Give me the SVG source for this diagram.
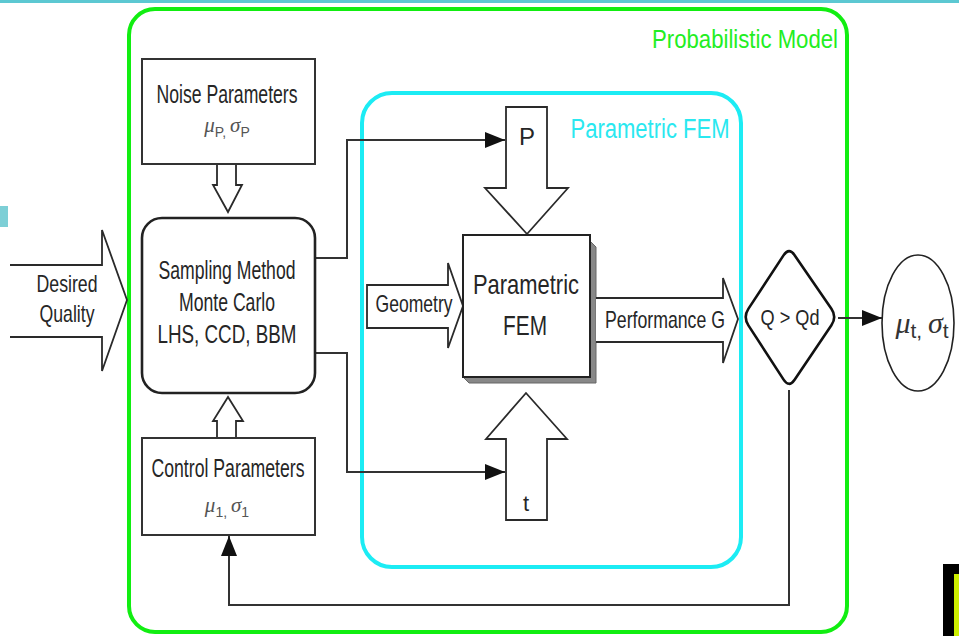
<svg xmlns="http://www.w3.org/2000/svg" width="959" height="636" viewBox="0 0 959 636">
<style>
text{font-family:"Liberation Sans Narrow","Liberation Sans",Arial,sans-serif;fill:#262626;text-anchor:middle}
.box{fill:#fff;stroke:#333;stroke-width:2}
.hol{fill:#fff;stroke:#2a2a2a;stroke-width:1.8;stroke-linejoin:miter}
.con{fill:none;stroke:#333;stroke-width:2}
.gr{font-style:italic;font-family:"Liberation Serif","Times New Roman",serif;fill:#555}
.sub{font-style:normal;font-family:"Liberation Sans",Arial,sans-serif}
</style>
<defs>
<marker id="ah" markerUnits="userSpaceOnUse" markerWidth="22" markerHeight="16" refX="20" refY="8" orient="auto">
<path d="M0 0 L20 8 L0 16 Z" fill="#111"/>
</marker>
</defs>
<rect x="0" y="0" width="959" height="609" fill="#fff"/>
<rect x="0" y="0" width="959" height="3" fill="#5cc8d2"/>
<rect x="0" y="206" width="8" height="21" fill="#7dcfd6"/>
<rect x="943" y="564" width="16" height="72" fill="#000"/>
<rect x="954" y="574" width="5" height="62" fill="#ccee00"/>

<g id="probabilistic-model">
<rect x="129" y="9" width="718" height="623" rx="26" fill="none" stroke="#11ee11" stroke-width="4"/>
<text x="745" y="48" font-size="26" style="fill:#22ee22" textLength="186" lengthAdjust="spacingAndGlyphs">Probabilistic Model</text>
</g>
<g id="parametric-fem-group">
<rect x="362" y="93" width="379" height="474" rx="30" fill="none" stroke="#1cecf4" stroke-width="4"/>
<text x="650" y="138" font-size="27" style="fill:#2ae8f0" textLength="159" lengthAdjust="spacingAndGlyphs">Parametric FEM</text>
</g>

<g id="connectors">
<path class="con" d="M316 258 H347 V140 H505" marker-end="url(#ah)"/>
<path class="con" d="M316 353 H347 V472 H505" marker-end="url(#ah)"/>
<path class="con" d="M838 318 H882" marker-end="url(#ah)"/>
<path class="con" d="M789 390 V605 H229 V536" marker-end="url(#ah)"/>
</g>

<g id="desired-quality">
<path class="hol" d="M10 265 H102 V230 L127 300 L102 371 V337 H10"/>
<text x="67" y="292" font-size="24" textLength="61" lengthAdjust="spacingAndGlyphs">Desired</text>
<text x="67" y="322" font-size="24" textLength="55" lengthAdjust="spacingAndGlyphs">Quality</text>
</g>

<g id="noise-parameters">
<rect class="box" x="142" y="59" width="173" height="105"/>
<text x="227" y="103" font-size="25" textLength="141" lengthAdjust="spacingAndGlyphs">Noise Parameters</text>
<text x="227" y="132" font-size="21" class="gr">μ<tspan class="sub" font-size="14" dy="5">P</tspan><tspan class="sub" font-size="14">, </tspan><tspan dy="-5">σ</tspan><tspan class="sub" font-size="14" dy="5">P</tspan></text>
<path class="hol" d="M217 165 V185 H213 L228 212 L242 185 H236 V165"/>
</g>

<g id="sampling-method">
<rect x="142" y="218" width="173" height="175" rx="20" fill="#fff" stroke="#222" stroke-width="2.6"/>
<text x="227" y="279" font-size="25" textLength="137" lengthAdjust="spacingAndGlyphs">Sampling Method</text>
<text x="227" y="311" font-size="25" textLength="96" lengthAdjust="spacingAndGlyphs">Monte Carlo</text>
<text x="227" y="343" font-size="25" textLength="139" lengthAdjust="spacingAndGlyphs">LHS, CCD, BBM</text>
</g>

<g id="control-parameters">
<rect class="box" x="142" y="438" width="173" height="97"/>
<text x="228" y="477" font-size="25" textLength="153" lengthAdjust="spacingAndGlyphs">Control Parameters</text>
<text x="227" y="512" font-size="21" class="gr">μ<tspan class="sub" font-size="14" dy="5">1</tspan><tspan class="sub" font-size="14">, </tspan><tspan dy="-5">σ</tspan><tspan class="sub" font-size="14" dy="5">1</tspan></text>
<path class="hol" d="M217 437 V421 H213 L228 397 L243 421 H236 V437"/>
</g>

<g id="p-input">
<path class="hol" d="M506 107 H547 V188 H568 L527 234 L485 188 H506 Z"/>
<text x="527" y="145" font-size="24">P</text>
</g>

<g id="t-input">
<path class="hol" d="M506 520 H547 V439 H567 L526 393 L486 439 H506 Z"/>
<text x="526" y="511" font-size="22">t</text>
</g>

<g id="geometry">
<path class="hol" d="M367 285 H448 V263 L463 306 L448 348 V328 H367 Z"/>
<text x="414" y="312" font-size="24" textLength="77" lengthAdjust="spacingAndGlyphs">Geometry</text>
</g>

<g id="fem">
<path d="M590 241 L596 247 V383 H469 L463 377 H590 Z" fill="#888" stroke="#666" stroke-width="1"/>
<rect x="463" y="235" width="127" height="142" fill="#fff" stroke="#222" stroke-width="2"/>
<text x="526" y="294" font-size="28" textLength="106" lengthAdjust="spacingAndGlyphs">Parametric</text>
<text x="525" y="335" font-size="28" textLength="44" lengthAdjust="spacingAndGlyphs">FEM</text>
</g>

<g id="performance">
<path class="hol" d="M596 298 H723 V278 L738 319 L723 363 V342 H596"/>
<text x="665" y="328" font-size="24" textLength="120" lengthAdjust="spacingAndGlyphs">Performance G</text>
</g>

<g id="decision">
<path d="M783.5 255.4 Q789 247 794.6 255.2 L831.4 308.8 Q837 317 831.4 325.3 L794.6 379.7 Q789 388 783.6 379.6 L748.4 325.4 Q743 317 748.5 308.6 Z" fill="#fff" stroke="#111" stroke-width="2.6"/>
<text x="790" y="325" font-size="22" textLength="59" lengthAdjust="spacingAndGlyphs">Q &gt; Qd</text>
</g>

<g id="result">
<ellipse cx="918" cy="323" rx="36" ry="68" fill="#fff" stroke="#222" stroke-width="1.6"/>
<text x="922" y="333" font-size="30" class="gr" style="fill:#333">μ<tspan class="sub" font-size="21" dy="5">t</tspan><tspan class="sub" font-size="21">, </tspan><tspan dy="-5">σ</tspan><tspan class="sub" font-size="21" dy="5">t</tspan></text>
</g>
</svg>
